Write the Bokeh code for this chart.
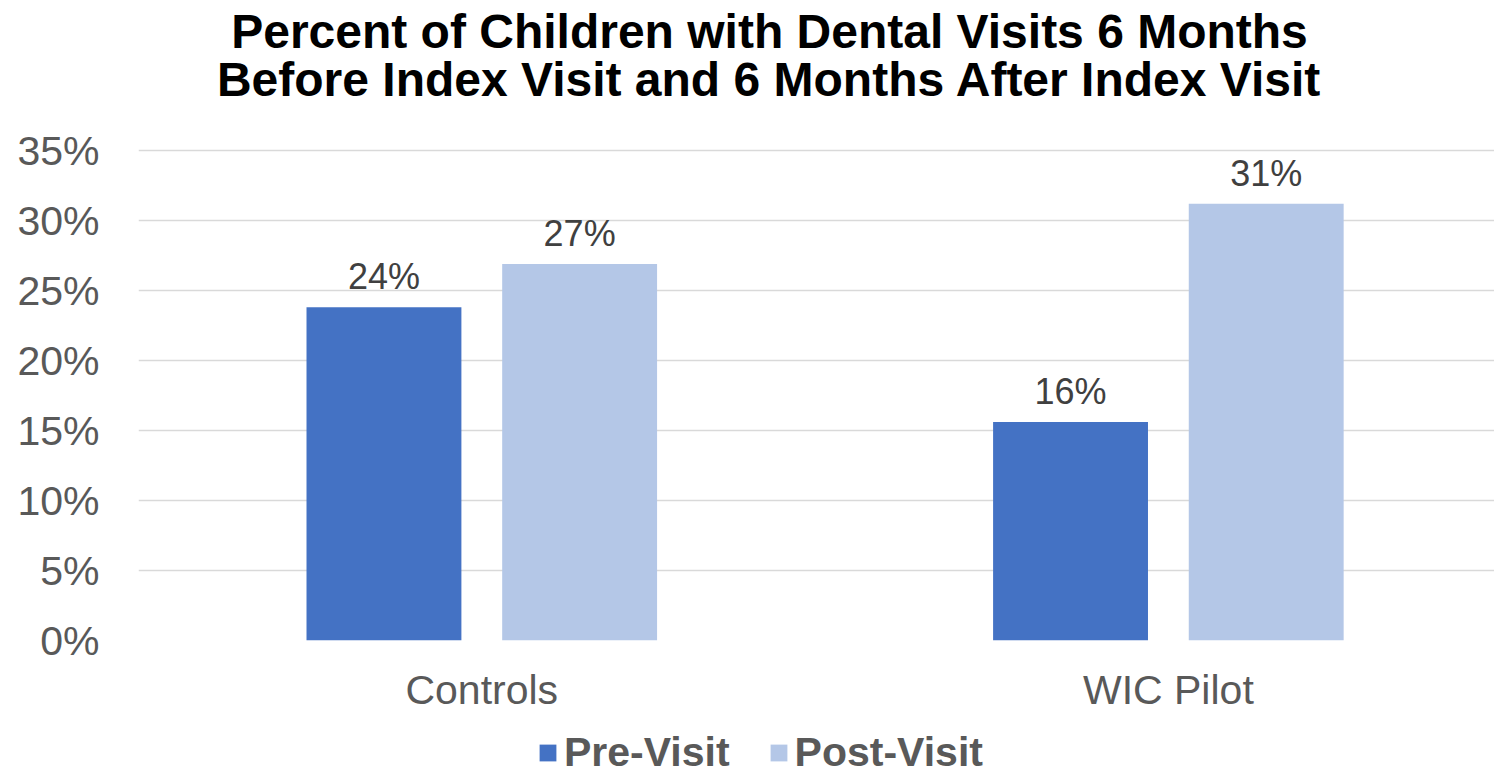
from bokeh.plotting import figure
from bokeh.layouts import column
from bokeh.models import (Range1d, FixedTicker, PrintfTickFormatter, Legend,
                          LegendItem, Label, ColumnDataSource)
from bokeh.core.properties import value
from bokeh.embed import file_html
from bokeh.resources import INLINE

# ---- data ----
categories = ["Controls", "WIC Pilot"]
series_names = ["Pre-Visit", "Post-Visit"]
pre_visit = [23.8, 15.6]
post_visit = [26.9, 31.2]
pre_labels = ["24%", "16%"]
post_labels = ["27%", "31%"]
y_ticks = [0, 5, 10, 15, 20, 25, 30, 35]
title_lines = ["Percent of Children with Dental Visits 6 Months",
               "Before Index Visit and 6 Months After Index Visit"]

# ---- style ----
FONT = "Liberation Sans"
colors = ["#4472C4", "#B4C7E7"]
bar_w = 0.2256
dodge = 0.1425
W = 1494
MAIN_H, LEG_H = 720, 60
FRAME_LEFT, FRAME_BOTTOM_PX = 138, 640   # frame left edge / bottom edge (px from top)
Y_TOP_PX = 150                            # pixel row of the 35% gridline

cat_x = [i + 0.5 for i in range(len(categories))]
pre_x = [c - dodge for c in cat_x]
post_x = [c + dodge for c in cat_x]

y_end = y_ticks[-1] * FRAME_BOTTOM_PX / (FRAME_BOTTOM_PX - Y_TOP_PX)

p = figure(width=W, height=MAIN_H, output_backend="svg", toolbar_location=None,
           x_range=Range1d(0, 1.975), y_range=Range1d(0, y_end),
           min_border_left=FRAME_LEFT, min_border_right=0, min_border_top=0,
           min_border_bottom=MAIN_H - FRAME_BOTTOM_PX)
p.outline_line_color = None
p.background_fill_color = "white"
p.border_fill_color = "white"

src_pre = ColumnDataSource(dict(x=pre_x, top=pre_visit, label=pre_labels))
src_post = ColumnDataSource(dict(x=post_x, top=post_visit, label=post_labels))

p.vbar(x="x", top="top", width=bar_w, source=src_pre,
       fill_color=colors[0], line_color=None)
p.vbar(x="x", top="top", width=bar_w, source=src_post,
       fill_color=colors[1], line_color=None)

for src in (src_pre, src_post):
    p.text(x="x", y="top", text="label", source=src, text_align="center",
           text_baseline="bottom", y_offset=-10,
           text_font=value(FONT), text_font_size="36px", text_color="#404040")

# axes
p.yaxis.ticker = FixedTicker(ticks=y_ticks)
p.yaxis.formatter = PrintfTickFormatter(format="%d%%")
p.yaxis.axis_line_color = None
p.yaxis.major_tick_line_color = None
p.yaxis.minor_tick_line_color = None
p.yaxis.major_tick_out = 0
p.yaxis.major_tick_in = 0
p.yaxis.major_label_standoff = 39
p.yaxis.major_label_text_font = FONT
p.yaxis.major_label_text_font_size = "41px"
p.yaxis.major_label_text_color = "#595959"

p.xaxis.ticker = FixedTicker(ticks=cat_x)
p.xaxis.major_label_overrides = {c: n for c, n in zip(cat_x, categories)}
p.xaxis.axis_line_color = None
p.xaxis.major_tick_line_color = None
p.xaxis.minor_tick_line_color = None
p.xaxis.major_tick_out = 0
p.xaxis.major_tick_in = 0
p.xaxis.major_label_standoff = 26
p.xaxis.major_label_text_font = FONT
p.xaxis.major_label_text_font_size = "41px"
p.xaxis.major_label_text_color = "#595959"

p.xgrid.grid_line_color = None
p.ygrid.ticker = FixedTicker(ticks=y_ticks)
p.ygrid.grid_line_color = "#D9D9D9"
p.ygrid.grid_line_width = 1.5

# title (two centred lines at the top of the canvas)
for line, bottom_px in ((title_lines[0], 57), (title_lines[1], 105)):
    p.add_layout(Label(x=769 - FRAME_LEFT, y=FRAME_BOTTOM_PX - bottom_px,
                       x_units="screen", y_units="screen", text=line,
                       text_align="center", text_baseline="bottom",
                       text_font=FONT, text_font_size="48px",
                       text_font_style="bold", text_color="black"))

# ---- legend strip ----
lg = figure(width=W, height=LEG_H, output_backend="svg", toolbar_location=None,
            x_range=Range1d(0, 1), y_range=Range1d(0, 1),
            x_axis_type=None, y_axis_type=None,
            min_border_left=0, min_border_right=0, min_border_top=0,
            min_border_bottom=0)
lg.outline_line_color = None
lg.grid.grid_line_color = None
lg.background_fill_color = "white"
lg.border_fill_color = "white"
leg_renderers = [lg.vbar(x=cat_x, top=vals, width=bar_w, fill_color=c,
                         line_color=None, visible=False)
                 for c, vals in zip(colors, (pre_visit, post_visit))]

legend = Legend(items=[LegendItem(label=n, renderers=[r])
                       for n, r in zip(series_names, leg_renderers)],
                orientation="horizontal", location=(399, 4),
                glyph_width=21, glyph_height=21, label_standoff=6, spacing=38,
                padding=0, margin=0, border_line_color=None,
                background_fill_alpha=0, inactive_fill_alpha=0,
                label_text_font=FONT, label_text_font_size="41px",
                label_text_font_style="bold", label_text_color="#595959")
lg.add_layout(legend)

layout = column(p, lg, spacing=0)
open("out.html", "w").write(file_html(layout, INLINE))
